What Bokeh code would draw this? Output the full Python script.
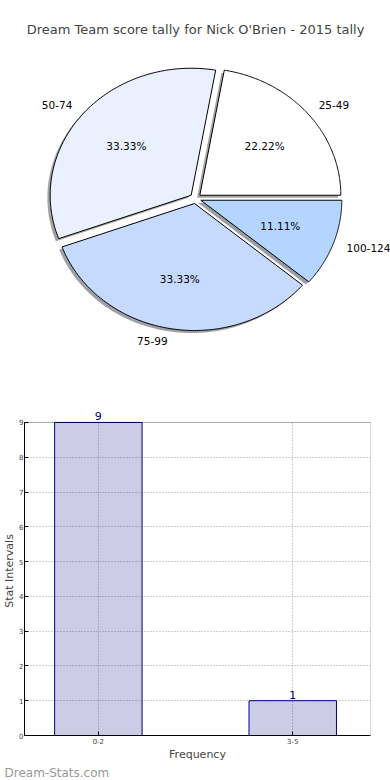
import numpy as np
from bokeh.plotting import figure
from bokeh.layouts import column
from bokeh.models import (Range1d, ColumnDataSource, LabelSet, FixedTicker,
                          BoxAnnotation, Spacer, Title)
from bokeh.core.properties import value
from bokeh.embed import file_html
from bokeh.resources import INLINE

# ---------------- data ----------------
title_text = "Dream Team score tally for Nick O'Brien - 2015 tally"
pie_labels = ["25-49", "50-74", "75-99", "100-124"]
pie_counts = [2, 3, 3, 1]
pie_colors = ["#ffffff", "#eaf0fe", "#c6d9ff", "#b3d5ff"]
explode = 0.04

bar_cats = ["0-2", "3-5"]
bar_values = [9, 1]
y_ticks = list(range(10))
x_label = "Frequency"
y_label = "Stat Intervals"
watermark = "Dream-Stats.com"

FONT = "DejaVu Sans"
W = 390
RX, RY = 141, 127          # px per unit radius (matplotlib non-equal aspect)
PIE_FH = 339               # pie frame height
CX, CY = 195, 161          # pie centre inside frame (px)

# ---------------- pie ----------------
pie = figure(frame_width=W, frame_height=PIE_FH, output_backend="svg", toolbar_location=None,
             x_axis_location=None, y_axis_location=None, frame_align=False,
             min_border=0, min_border_left=0, min_border_right=0, min_border_bottom=0,
             min_border_top=0,
             x_range=Range1d(-CX / RX, (W - CX) / RX),
             y_range=Range1d(-(PIE_FH - CY) / RY, CY / RY))
pie.grid.visible = False
pie.outline_line_color = None
pie.title.text = title_text
pie.title.align = "center"
pie.title.text_font = FONT
pie.title.text_font_size = "13px"
pie.title.text_font_style = "normal"
pie.title.standoff = 2

total = float(sum(pie_counts))
fracs = np.array(pie_counts) / total
cum = np.concatenate([[0.0], np.cumsum(fracs)])

xs, ys, sxs, sys_ = [], [], [], []
shadow_colors = []
lab_x, lab_y, lab_align = [], [], []
pct_x, pct_y, pct_text = [], [], []
for i in range(len(pie_counts)):
    t1, t2 = 2 * np.pi * cum[i], 2 * np.pi * cum[i + 1]
    mid = 0.5 * (t1 + t2)
    ox, oy = explode * np.cos(mid), explode * np.sin(mid)
    t = np.linspace(t1, t2, 150)
    px = np.concatenate([[ox], ox + np.cos(t), [ox]])
    py = np.concatenate([[oy], oy + np.sin(t), [oy]])
    xs.append(list(px)); ys.append(list(py))
    sxs.append(list(px - 0.02)); sys_.append(list(py - 0.02))
    c = pie_colors[i].lstrip("#")
    rgb = [int(c[k:k + 2], 16) for k in (0, 2, 4)]
    shadow_colors.append("#%02x%02x%02x" % tuple(int(v * 0.3) for v in rgb))
    lx, ly = ox + 1.1 * np.cos(mid), oy + 1.1 * np.sin(mid)
    lab_x.append(lx); lab_y.append(ly)
    lab_align.append("left" if lx > 0 else "right")
    pct_x.append(ox + 0.6 * np.cos(mid)); pct_y.append(oy + 0.6 * np.sin(mid))
    pct_text.append("%.2f%%" % (fracs[i] * 100))

pie.patches(xs=sxs, ys=sys_, fill_color=shadow_colors, fill_alpha=0.5, line_color=None)
pie.patches(xs=xs, ys=ys, fill_color=pie_colors, line_color="black", line_width=1)

lab_src = ColumnDataSource(dict(x=lab_x, y=lab_y, text=pie_labels, align=lab_align))
pie.text(x="x", y="y", text="text", source=lab_src, text_align="align",
         text_baseline="middle", text_font=value(FONT), text_font_size="10.5px", text_color="black")
pct_src = ColumnDataSource(dict(x=pct_x, y=pct_y, text=pct_text))
pie.text(x="x", y="y", text="text", source=pct_src, text_align="center",
         text_baseline="middle", text_font=value(FONT), text_font_size="10.5px", text_color="black")

# ---------------- bar ----------------
BAR_H = 403
TOP_B = 30                 # border above frame
BOT_B_EST = 43             # estimated axis + watermark height below frame
STRIP = 16                 # px between frame top and the y=9 line
y_max = max(y_ticks)
fh_est = BAR_H - TOP_B - BOT_B_EST
y_top = y_max + STRIP * y_max / (fh_est - STRIP)

xpos = list(range(len(bar_cats)))
bar = figure(width=W, height=BAR_H, output_backend="svg", toolbar_location=None,
             frame_align=False,
             x_range=Range1d(-0.38, 1.4), y_range=Range1d(0, y_top),
             min_border=0, min_border_top=TOP_B, min_border_right=20, min_border_left=20,
             min_border_bottom=0)

# white strip above y=9 so the axes box ends at 9 (value labels live in the strip)
bar.add_layout(BoxAnnotation(bottom=y_max, fill_color="white", fill_alpha=1.0,
                             line_color=None, level="underlay"))
src = ColumnDataSource(dict(x=xpos, top=bar_values, label=[str(v) for v in bar_values]))
bar.vbar(x="x", top="top", bottom=0, width=0.45, source=src,
         fill_color="navy", fill_alpha=0.2, line_color="navy", line_width=1)
bar.add_layout(BoxAnnotation(bottom=0, top=y_max, left=-0.38, right=1.4,
                             fill_color=None, line_color="black", line_width=1))
bar.add_layout(LabelSet(x="x", y="top", text="label", source=src, y_offset=2,
                        text_align="center", text_baseline="bottom", text_color="navy",
                        text_font=value(FONT), text_font_size="11px"))

bar.xaxis.ticker = FixedTicker(ticks=xpos)
bar.xaxis.major_label_overrides = {i: c for i, c in enumerate(bar_cats)}
bar.yaxis.ticker = FixedTicker(ticks=y_ticks)
bar.yaxis.bounds = (0, y_max)
bar.xaxis.axis_label = x_label
bar.yaxis.axis_label = y_label
for ax in (bar.xaxis, bar.yaxis):
    ax.major_tick_in = 4
    ax.major_tick_out = 0
    ax.minor_tick_line_color = None
    ax.major_label_text_font = FONT
    ax.major_label_text_font_size = "7px"
    ax.major_label_standoff = 1
    ax.axis_label_text_font = FONT
    ax.axis_label_text_font_size = "11px"
    ax.axis_label_text_font_style = "normal"
    ax.axis_label_standoff = 0
    ax.axis_line_color = "black"
bar.xaxis.major_label_standoff = 2
bar.xaxis.axis_label_standoff = 1

for g in (bar.xgrid, bar.ygrid):
    g.grid_line_color = "#a0a0a0"
    g.grid_line_dash = "1 2"
    g.grid_line_width = 1
bar.outline_line_color = None

bar.add_layout(Title(text=watermark, align="left", offset=-20, standoff=0,
                     text_font=FONT, text_font_size="12px", text_font_style="normal",
                     text_color="#999999"), "below")

layout = column(Spacer(height=18), pie, bar, spacing=0)
open("out.html", "w").write(file_html(layout, INLINE))
